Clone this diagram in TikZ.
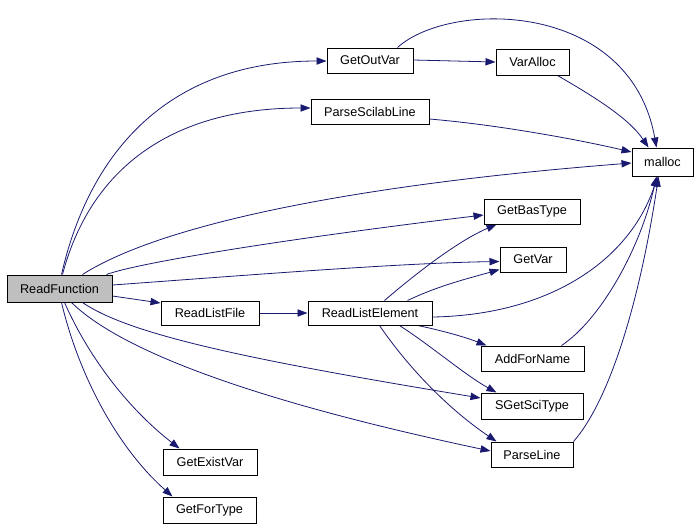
\documentclass[tikz,border=0pt]{standalone}
\usepackage{fontspec}
\setmainfont{Liberation Sans}
\usetikzlibrary{arrows.meta,calc,backgrounds}
\definecolor{edgecol}{HTML}{191970}
\definecolor{rootfill}{HTML}{BFBFBF}
\newcommand\fnnode[7][]{%
  \node[fnbox,#1,minimum width={(#5-#3)*0.75pt},minimum height={(#6-#4)*0.75pt}]
    (#2) at ({(#3+#5)/2},{(#4+#6)/2}) {#7};}
\begin{document}
\begin{tikzpicture}[x=0.75pt,y=-0.75pt,
  fnbox/.style={draw=black,line width=0.75pt,fill=white,inner sep=0pt,
    font=\fontsize{9.5pt}{10pt}\selectfont},
  rootbox/.style={fill=rootfill},
  call/.style={draw=edgecol,line width=0.6pt,
    -{Triangle[length=7.5pt,width=5.5pt]}}]
\useasboundingbox (0,0) rectangle (698,526);
\fnnode[rootbox]{rf}{7}{275}{112}{302}{ReadFunction}
\fnnode{gov}{327}{48}{413}{73}{GetOutVar}
\fnnode{va}{496}{49}{569}{75}{VarAlloc}
\fnnode{psl}{311}{99}{429}{124}{ParseScilabLine}
\fnnode{ml}{632}{148}{693}{176}{malloc}
\fnnode{gbt}{484}{199}{580}{224}{GetBasType}
\fnnode{gv}{500}{247}{566}{272}{GetVar}
\fnnode{rlf}{161}{301}{259}{325}{ReadListFile}
\fnnode{rle}{308}{301}{432}{325}{ReadListElement}
\fnnode{afn}{481}{346}{584}{371}{AddForName}
\fnnode{sgst}{481}{393}{583}{419}{SGetSciType}
\fnnode{pl}{491}{442}{573}{467}{ParseLine}
\fnnode{gev}{163}{449}{257}{475}{GetExistVar}
\fnnode{gft}{163}{497}{256}{523}{GetForType}
\begin{pgfonlayer}{background}
% ReadFunction calls
\draw[call] ($(rf.north west)+(55,0)$) .. controls (90,150) and (170,61) .. ($(gov.west)+(0,0.5)$);
\draw[call] ($(rf.north west)+(56,0)$) .. controls (90,170) and (170,108) .. ($(psl.west)+(0,-3.5)$);
\draw[call] ($(rf.north west)+(76,0)$) .. controls (160,225) and (350,185) .. ($(ml.west)+(0,1)$);
\draw[call] ($(rf.north west)+(100,0)$) .. controls (140,262) and (300,237) .. ($(gbt.west)+(0,3.5)$);
\draw[call] ($(rf.east)+(0,-3.5)$) .. controls (250,275) and (400,263) .. ($(gv.west)+(0,2)$);
\draw[call] ($(rf.east)+(0,7.5)$) -- ($(rlf.north west)+(0,2.5)$);
\draw[call] ($(rf.south west)+(76,0)$) .. controls (130,335) and (250,360) .. ($(sgst.west)+(0,-8)$);
\draw[call] ($(rf.south west)+(65,0)$) .. controls (120,350) and (250,400) .. ($(pl.west)+(0,-3.5)$);
\draw[call] ($(rf.south west)+(58,0)$) .. controls (90,360) and (130,410) .. ($(gev.north west)+(17,0)$);
\draw[call] ($(rf.south west)+(55,0)$) .. controls (80,380) and (120,450) .. ($(gft.north west)+(10,0)$);
% GetOutVar
\draw[call] ($(gov.east)+(0,-0.5)$) -- ($(va.west)+(0,0)$);
\draw[call] ($(gov.north west)+(71,0)$) .. controls (450,0) and (630,0) .. ($(ml.north west)+(25,0)$);
% VarAlloc, ParseScilabLine
\draw[call] ($(va.south west)+(62,0)$) .. controls (600,100) and (630,120) .. ($(ml.north west)+(17,0)$);
\draw[call] ($(psl.east)+(0,7.5)$) .. controls (500,125) and (580,140) .. ($(ml.west)+(0,-10)$);
% ReadListFile
\draw[call] (rlf.east) -- (rle.west);
% ReadListElement calls
\draw[call] ($(rle.north west)+(77,0)$) .. controls (420,270) and (460,240) .. ($(gbt.south west)+(13,0)$);
\draw[call] ($(rle.north west)+(100,0)$) .. controls (440,285) and (470,278) .. ($(gv.west)+(0,10)$);
\draw[call] ($(rle.east)+(0,4)$) .. controls (550,315) and (630,260) .. ($(ml.south west)+(26,0)$);
\draw[call] ($(rle.south west)+(110,0)$) .. controls (440,330) and (465,337) .. ($(afn.north west)+(6,0)$);
\draw[call] ($(rle.south west)+(92,0)$) .. controls (430,345) and (465,375) .. ($(sgst.north west)+(16,0)$);
\draw[call] ($(rle.south west)+(72,0)$) .. controls (410,370) and (450,410) .. ($(pl.north west)+(6,0)$);
% AddForName, ParseLine -> malloc
\draw[call] ($(afn.north west)+(81,0)$) .. controls (600,320) and (640,250) .. ($(ml.south west)+(25,0)$);
\draw[call] (pl.north east) .. controls (610,400) and (640,300) .. ($(ml.south west)+(27,0)$);
\end{pgfonlayer}
\end{tikzpicture}
\end{document}
